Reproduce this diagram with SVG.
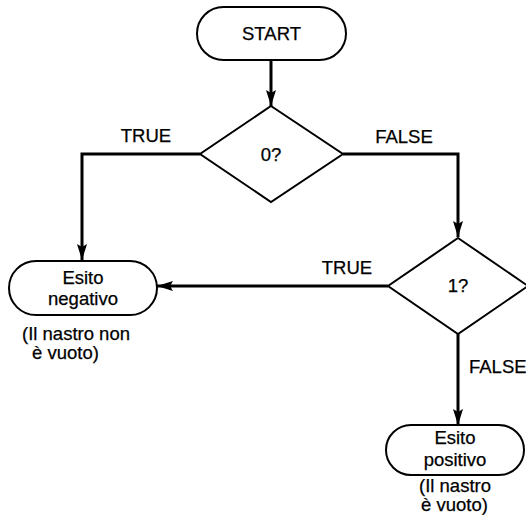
<svg xmlns="http://www.w3.org/2000/svg" width="526" height="515" viewBox="0 0 526 515">
  <style>
    .shape { fill: #fff; stroke: #000; stroke-width: 2; }
    .line { fill: none; stroke: #000; stroke-width: 3; }
    text { font-family: "Liberation Sans", Arial, sans-serif; font-size: 18.5px; fill: #000; stroke: #000; stroke-width: 0.25; }
    .c { text-anchor: middle; }
  </style>
  <defs>
    <marker id="arrowBig" viewBox="0 0 16 12" refX="16" refY="6" markerWidth="16" markerHeight="12" markerUnits="userSpaceOnUse" orient="auto">
      <path d="M0,1 L16,6 L0,11 L3,6 Z" fill="#000"/>
    </marker>
  </defs>

  <g id="connectors">
    <path class="line" d="M271,60 V106" marker-end="url(#arrowBig)"/>
    <path class="line" d="M200,154 H82 V260" marker-end="url(#arrowBig)"/>
    <path class="line" d="M343,154 H458 V237" marker-end="url(#arrowBig)"/>
    <path class="line" d="M388,286 H157" marker-end="url(#arrowBig)"/>
    <path class="line" d="M458,334 V425" marker-end="url(#arrowBig)"/>
    <text class="c" x="146" y="142">TRUE</text>
    <text class="c" x="404" y="143">FALSE</text>
    <text class="c" x="347" y="274">TRUE</text>
    <text x="469" y="373">FALSE</text>
  </g>

  <g id="start">
    <rect class="shape" x="197" y="7" width="149" height="53" rx="26.5"/>
    <text class="c" x="271.5" y="40">START</text>
  </g>

  <g id="test0">
    <polygon class="shape" points="271,106 343,154 271,202 200,154"/>
    <text class="c" x="271" y="161">0?</text>
  </g>

  <g id="test1">
    <polygon class="shape" points="458,238 528,286 458,334 388,286"/>
    <text class="c" x="458" y="292">1?</text>
  </g>

  <g id="negative">
    <rect class="shape" x="9" y="261" width="148" height="54" rx="27"/>
    <text class="c" x="83" y="284">Esito</text>
    <text class="c" x="83" y="305">negativo</text>
    <text x="22" y="340">(Il nastro non</text>
    <text x="32" y="359">è vuoto)</text>
  </g>

  <g id="positive">
    <rect class="shape" x="386" y="425" width="138" height="50" rx="25"/>
    <text class="c" x="455" y="444">Esito</text>
    <text class="c" x="455" y="466">positivo</text>
    <text x="419" y="492">(Il nastro</text>
    <text x="421" y="511">è vuoto)</text>
  </g>
</svg>
